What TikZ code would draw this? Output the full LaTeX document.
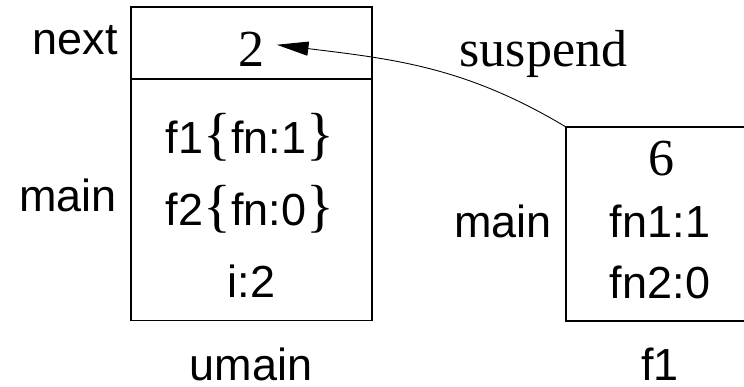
\documentclass[tikz,border=0pt]{standalone}
\usepackage{fontspec}
\setmainfont{Liberation Serif}
\setsansfont{Liberation Sans}
\usetikzlibrary{arrows.meta,positioning}
\newcommand\brc[1]{{\fontsize{33}{36}\selectfont\rmfamily#1}}

\begin{document}
\begin{tikzpicture}[x=0.02cm,y=0.02cm,
  cell/.style={draw,line width=0.6pt,inner sep=0pt,outer sep=0pt},
  sans/.style={font=\fontsize{25.6}{30}\selectfont\sffamily,inner sep=0pt},
  serif/.style={font=\fontsize{29.6}{34}\selectfont\rmfamily,inner sep=0pt}]
\useasboundingbox (0,0) rectangle (744,386);
% umain frame
\node[cell,minimum width=4.82cm,minimum height=1.44cm] (nextcell) at (251.5,343) {};
\node[cell,minimum width=4.82cm,minimum height=4.84cm,anchor=north] (maincell) at (nextcell.south) {};
% f1 frame
\node[cell,minimum width=3.76cm,minimum height=3.88cm] (fbox) at (660,162) {};
% umain
\node[sans,anchor=base east] (nextlbl) at (118,331) {next};
\node[serif,anchor=base,inner xsep=0.24cm] (two) at (251.5,319) {2};
\node[sans,anchor=base east] (umainlbl) at (117,174) {main};
\node[sans,anchor=base] (slot1) at (250,233) {f1\brc{\{}fn:1\brc{\}}};
\node[sans,anchor=base] (slot2) at (250,161) {f2\brc{\{}fn:0\brc{\}}};
\node[sans,anchor=base] (slot3) at (251.5,89) {i:2};
\node[sans,anchor=base] (umain) at (251,5.5) {umain};
% f1
\node[serif,anchor=base] (six) at (661,211) {6};
\node[sans,anchor=base east] (fmainlbl) at (552,149) {main};
\node[sans,anchor=base] (fn1) at (660,149) {fn1:1};
\node[sans,anchor=base] (fn2) at (660,88) {fn2:0};
\node[sans,anchor=base] (fname) at (660,5.5) {f1};
\node[serif,anchor=base] (suspend) at (543.5,319) {suspend};
\draw[line width=0.5pt,-{Triangle[length=18pt,width=8pt]}] (fbox.north west) to[out=149,in=-7] ([yshift=0.1cm]two.east);
\end{tikzpicture}
\end{document}
